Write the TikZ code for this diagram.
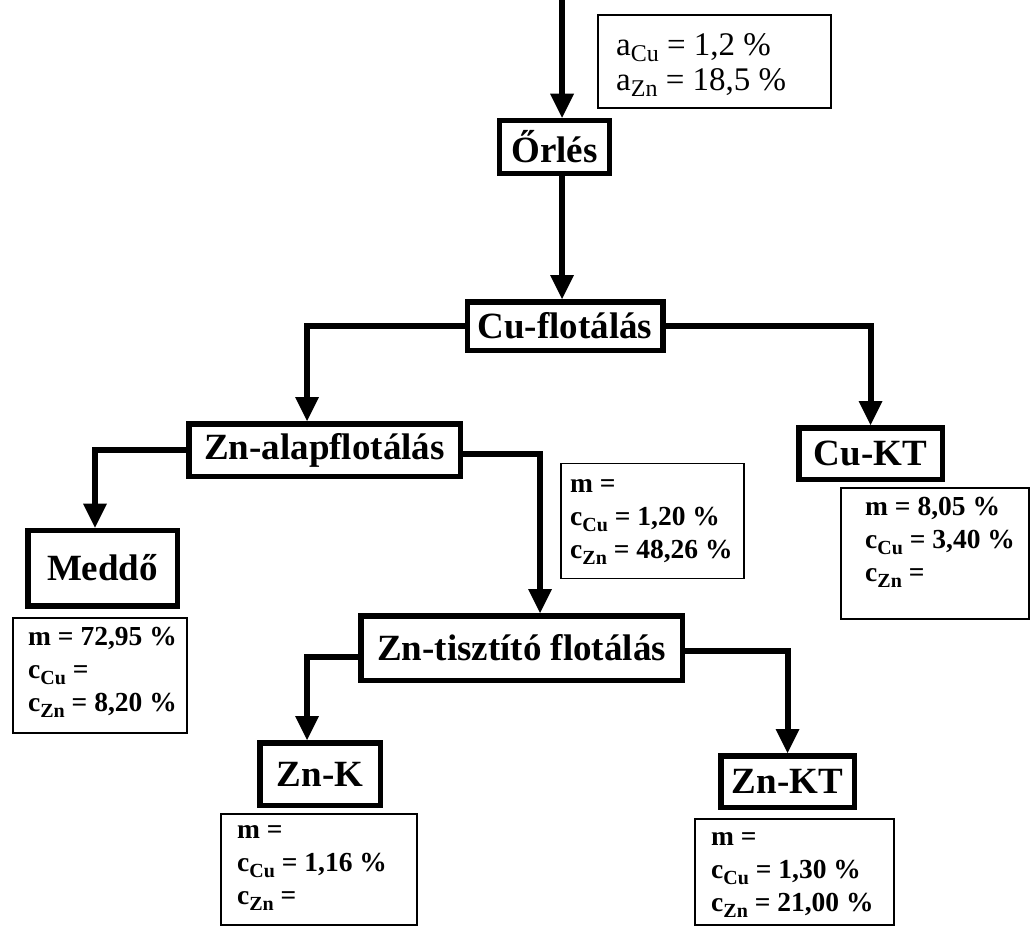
\documentclass[tikz,border=0pt]{standalone}
\usepackage{fontspec}
\setmainfont{Liberation Serif}
\usetikzlibrary{arrows.meta}
\newcommand\lowsub[1]{\raisebox{-0.22em}{\fontsize{20}{20}\selectfont #1}}
\newcommand\lowsubtop[1]{\raisebox{-0.2em}{\fontsize{24}{24}\selectfont #1}}
\begin{document}
\begin{tikzpicture}[x=1pt,y=-1pt,
  proc/.style={draw, line width=5.5pt, font=\bfseries\fontsize{37}{40}\selectfont, inner sep=0pt, align=center},
  tbox/.style={draw, line width=1.8pt, inner sep=0pt},
  ttext/.style={anchor=north west, inner sep=0pt, align=left, font=\bfseries\fontsize{27.5}{33}\selectfont},
  toptext/.style={anchor=north west, inner sep=0pt, align=left, font=\fontsize{33}{35}\selectfont},
  arr/.style={line width=6pt, -{Triangle[width=24pt,length=24pt,line width=0pt]}}]
\fill[white] (0,0) rectangle (1032,928);
\useasboundingbox (0,0) rectangle (1032,928);

% process boxes
\node[proc, minimum width=110, minimum height=53] (orles) at (554.5,147) {Őrlés};
\node[proc, minimum width=195.5, minimum height=48.5] (cuflot) at (565,326) {Cu-flotálás};
\node[proc, minimum width=271.5, minimum height=52.5] (znalap) at (324.5,450) {Zn-alapflotálás};
\node[proc, minimum width=143.5, minimum height=51.5] (cukt) at (870.5,453.5) {Cu-KT};
\node[proc, minimum width=149.5, minimum height=75.5] (meddo) at (102.5,568) {Meddő};
\node[proc, minimum width=321.5, minimum height=64.5] (zntiszt) at (521.5,648) {Zn-tisztító flotálás};
\node[proc, minimum width=120.5, minimum height=62.5] (znk) at (320,774) {Zn-K};
\node[proc, minimum width=133.5, minimum height=51.5] (znkt) at (787.5,781.5) {Zn-KT};

% data boxes
\node[tbox, minimum width=233, minimum height=93] (topbox) at (714.5,61.5) {};
\node[toptext] (toptxt) at (616,30.5) {\strut a\lowsubtop{Cu} = 1,2 \%\\\strut a\lowsubtop{Zn} = 18,5 \%};

\node[tbox, minimum width=183, minimum height=115] (mbox) at (652.5,521) {};
\node[ttext] (mtxt) at (570,468.9) {\strut m =\\\strut c\lowsub{Cu} = 1,20 \%\\\strut c\lowsub{Zn} = 48,26 \%};

\node[tbox, minimum width=188, minimum height=131] (cuktbox) at (935,553.5) {};
\node[ttext] (cukttxt) at (865,491.9) {\strut m = 8,05 \%\\\strut c\lowsub{Cu} = 3,40 \%\\\strut c\lowsub{Zn} =};

\node[tbox, minimum width=174, minimum height=115] (meddobox) at (100,675.5) {};
\node[ttext] (meddotxt) at (28,621.9) {\strut m = 72,95 \%\\\strut c\lowsub{Cu} =\\\strut c\lowsub{Zn} = 8,20 \%};

\node[tbox, minimum width=196, minimum height=111] (znkbox) at (319,869.5) {};
\node[ttext] (znktxt) at (237,814.9) {\strut m =\\\strut c\lowsub{Cu} = 1,16 \%\\\strut c\lowsub{Zn} =};

\node[tbox, minimum width=199, minimum height=106] (znktbox) at (794.5,872) {};
\node[ttext] (znkttxt) at (711,821.9) {\strut m =\\\strut c\lowsub{Cu} = 1,30 \%\\\strut c\lowsub{Zn} = 21,00 \%};

% connectors
\coordinate (in) at (562,0);
\draw[arr] (in) -- (in |- orles.north);
\draw[arr] (orles.south -| in) -- (cuflot.north -| in);
\draw[arr] (cuflot.west) -| ([xshift=-17.5pt]znalap.north);
\draw[arr] (cuflot.east) -| (cukt.north);
\draw[arr] (znalap.west) -| ([xshift=-7.5pt]meddo.north);
\draw[arr] ([yshift=-4pt]znalap.east) -| ([xshift=18.5pt]zntiszt.north);
\draw[arr] ([yshift=-9pt]zntiszt.west) -| ([xshift=-13pt]znk.north);
\draw[arr] ([yshift=-3pt]zntiszt.east) -| (znkt.north);
\end{tikzpicture}
\end{document}
